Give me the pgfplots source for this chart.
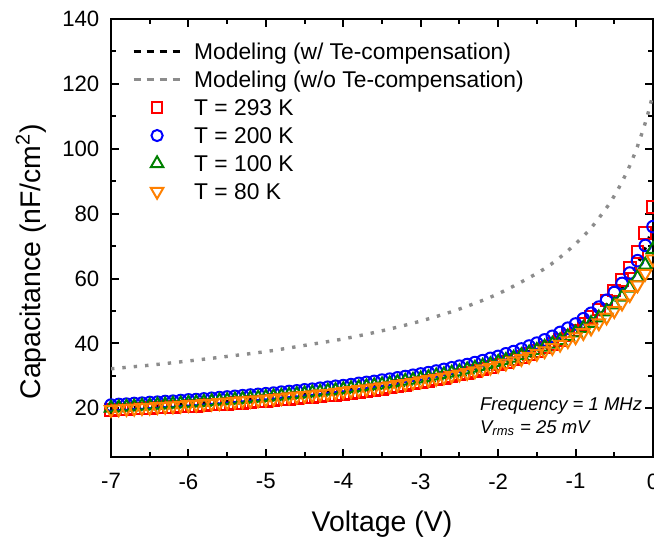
\documentclass[border=0pt]{standalone}
\usepackage{fontspec}
\setmainfont{Liberation Sans}
\usepackage{pgfplots}
\usepackage{pgfplotstable}
\pgfplotsset{compat=1.18}
\definecolor{mygray}{RGB}{140,140,140}
\definecolor{myorange}{RGB}{255,128,0}
\definecolor{mygreen}{RGB}{0,128,0}
\definecolor{myred}{RGB}{255,0,0}
\definecolor{myblue}{RGB}{0,0,255}

\pgfplotstableread{
V red blue green orange
-7.0 19.5 21.0 20.1 19.6
-6.9 19.7 21.2 20.2 19.8
-6.8 19.7 21.3 20.4 19.9
-6.7 19.9 21.5 20.5 20.0
-6.6 20.0 21.6 20.7 20.2
-6.5 20.1 21.8 20.8 20.3
-6.4 20.2 21.9 21.0 20.5
-6.3 20.4 22.1 21.1 20.6
-6.2 20.4 22.2 21.3 20.7
-6.1 20.6 22.4 21.4 20.9
-6.0 20.7 22.6 21.6 21.1
-5.9 20.8 22.7 21.7 21.2
-5.8 21.0 22.9 21.9 21.4
-5.7 21.2 23.1 22.1 21.5
-5.6 21.2 23.3 22.3 21.7
-5.5 21.4 23.5 22.4 21.9
-5.4 21.6 23.7 22.6 22.1
-5.3 21.7 23.9 22.8 22.3
-5.2 21.9 24.1 23.0 22.4
-5.1 22.1 24.3 23.2 22.6
-5.0 22.2 24.5 23.4 22.8
-4.9 22.5 24.7 23.6 23.0
-4.8 22.7 25.0 23.8 23.2
-4.7 22.8 25.2 24.1 23.5
-4.6 23.1 25.4 24.3 23.7
-4.5 23.3 25.7 24.5 23.9
-4.4 23.5 25.9 24.8 24.1
-4.3 23.7 26.2 25.0 24.4
-4.2 24.0 26.5 25.3 24.6
-4.1 24.2 26.8 25.5 24.9
-4.0 24.4 27.0 25.8 25.2
-3.9 24.7 27.3 26.1 25.4
-3.8 25.0 27.7 26.4 25.7
-3.7 25.4 28.0 26.7 26.0
-3.6 25.7 28.3 27.0 26.3
-3.5 26.0 28.7 27.3 26.6
-3.4 26.4 29.0 27.6 26.9
-3.3 26.8 29.4 28.0 27.3
-3.2 27.2 29.8 28.4 27.6
-3.1 27.6 30.2 28.7 28.0
-3.0 28.0 30.6 29.1 28.4
-2.9 28.4 31.0 29.5 28.8
-2.8 28.9 31.5 30.0 29.2
-2.7 29.3 32.0 30.4 29.6
-2.6 29.8 32.5 30.9 30.1
-2.5 30.4 33.0 31.3 30.5
-2.4 30.9 33.5 31.9 31.0
-2.3 31.5 34.1 32.4 31.5
-2.2 32.1 34.7 33.0 32.1
-2.1 32.8 35.4 33.5 32.6
-2.0 33.5 36.0 34.2 33.2
-1.9 34.2 36.8 34.8 33.9
-1.8 35.0 37.5 35.5 34.6
-1.7 35.8 38.3 36.3 35.3
-1.6 36.8 39.2 37.1 36.0
-1.5 37.7 40.1 37.9 36.9
-1.4 38.8 41.1 38.9 37.7
-1.3 39.9 42.2 39.8 38.7
-1.2 41.1 43.4 40.9 39.7
-1.1 42.5 44.7 42.1 40.8
-1.0 44.0 46.0 43.3 42.0
-0.9 46.0 47.6 44.7 43.3
-0.8 48.1 49.3 46.2 44.7
-0.7 50.5 51.2 47.9 46.3
-0.6 53.2 53.3 49.8 48.1
-0.5 56.3 55.7 51.9 50.1
-0.4 59.5 58.5 54.3 52.4
-0.3 63.4 61.7 57.1 55.0
-0.2 68.1 65.5 60.3 58.0
-0.1 74.1 70.2 64.2 61.6
0.0 82.0 76.0 69.0 66.0
}\datatable

\begin{document}
\begin{tikzpicture}
\begin{axis}[
  scale only axis, width=271pt, height=219pt,
  xmin=-7, xmax=0, ymin=5, ymax=140,
  xtick={-7,-6,-5,-4,-3,-2,-1,0}, ytick={20,40,60,80,100,120,140},
  minor x tick num=1, minor y tick num=1,
  tick align=inside,
  major tick length=4pt, minor tick length=2.5pt,
  every tick/.style={black, line width=1pt},
  axis line style={line width=1.2pt},
  /pgf/number format/assume math mode=true,
  tick label style={font=\fontsize{11.1}{13}\selectfont},
  xticklabel style={yshift=-4.8pt},
  yticklabel style={xshift=-2.3pt},
  xlabel={Voltage (V)},
  ylabel={Capacitance (nF/cm\textsuperscript{2})},
  label style={font=\fontsize{14.2}{17}\selectfont},
  xlabel style={at={(axis description cs:0.5,-0.1705)}, anchor=base},
  ylabel style={at={(axis description cs:-0.148,0.446)}, anchor=center},
  legend cell align=left,
  legend style={at={(axis description cs:0.038,0.954)}, anchor=north west, draw=none, fill=none, inner sep=0pt, row sep=2pt, column sep=6pt, font=\fontsize{11.4}{13}\selectfont, nodes={inner sep=0pt, text height=10pt, text depth=2pt}},
]
\addlegendimage{legend image code/.code={\draw[black, line width=1.6pt, dash pattern=on 3.5pt off 3pt] (0pt,0pt) -- (23.5pt,0pt);}}
\addlegendentry{Modeling (w/ Te-compensation)}
\addlegendimage{legend image code/.code={\draw[mygray, line width=1.6pt, dash pattern=on 3.5pt off 3pt] (0pt,0pt) -- (23.5pt,0pt);}}
\addlegendentry{Modeling (w/o Te-compensation)}
\addlegendimage{legend image code/.code={\path[draw=none,fill=none] (0pt,0pt) -- (23.5pt,0pt); \draw[myred, line width=1pt] (9.05pt,-2.7pt) rectangle (14.45pt,2.7pt);}}
\addlegendentry{T = 293 K}
\addlegendimage{legend image code/.code={\path[draw=none,fill=none] (0pt,0pt) -- (23.5pt,0pt); \draw[myblue, line width=1pt] (11.75pt,0pt) circle (2.8pt);}}
\addlegendentry{T = 200 K}
\addlegendimage{legend image code/.code={\path[draw=none,fill=none] (0pt,0pt) -- (23.5pt,0pt); \draw[mygreen, line width=1pt, line join=miter] (11.75pt,3.6pt) -- (14.87pt,-1.8pt) -- (8.63pt,-1.8pt) -- cycle;}}
\addlegendentry{T = 100 K}
\addlegendimage{legend image code/.code={\path[draw=none,fill=none] (0pt,0pt) -- (23.5pt,0pt); \draw[myorange, line width=1pt, line join=miter] (11.75pt,-3.6pt) -- (14.87pt,1.8pt) -- (8.63pt,1.8pt) -- cycle;}}
\addlegendentry{T = 80 K}

\addplot[forget plot, only marks, mark=square, mark size=2.9pt, draw=myred, mark options={line width=1pt}] table[x=V,y=red]{\datatable};
\addplot[forget plot, only marks, mark=o, mark size=2.9pt, draw=myblue, mark options={line width=1pt}] table[x=V,y=blue]{\datatable};
\addplot[forget plot, only marks, mark=triangle, mark size=3.6pt, draw=mygreen, mark options={line width=1pt}] table[x=V,y=green]{\datatable};
\addplot[forget plot, only marks, mark=triangle, mark size=3.6pt, draw=myorange, mark options={rotate=180, line width=1pt}] table[x=V,y=orange]{\datatable};

\addplot[forget plot, black, line width=1.7pt, dash pattern=on 1.7pt off 4pt, smooth] coordinates {
(-7,19.8) (-6.5,20.5) (-6,21.3) (-5.5,22.1) (-5,23.1) (-4.5,24.2) (-4,25.6) (-3.5,27.1) (-3,29.0) (-2.5,31.3) (-2,34.3) (-1.5,38.3) (-1.25,40.9) (-1,44.2) (-0.8,47.4) (-0.6,51.5) (-0.5,54.0) (-0.4,56.9) (-0.3,60.3) (-0.2,64.4) (-0.1,69.5) (-0.05,72.5) (0,76.0)};
\addplot[forget plot, mygray, line width=1.7pt, dash pattern=on 1.7pt off 4pt, smooth] coordinates {
(-7,32.2) (-6.5,33.3) (-6,34.6) (-5.5,36.0) (-5,37.5) (-4.5,39.4) (-4,41.4) (-3.5,43.9) (-3,46.9) (-2.5,50.6) (-2,55.3) (-1.5,61.6) (-1.25,65.6) (-1,70.7) (-0.8,75.6) (-0.6,81.8) (-0.5,85.5) (-0.4,89.8) (-0.3,94.8) (-0.2,100.8) (-0.1,108.0) (-0.05,112.2) (0,117.0)};

\node[anchor=west, align=left, font=\fontsize{9.25}{11.5}\selectfont\itshape] at (axis description cs:0.668,0.0925) {Frequency = 1 MHz\\V\textsubscript{rms} = 25 mV};
\end{axis}
\pgfresetboundingbox
\useasboundingbox ([xshift=-55.5pt,yshift=-41pt]current axis.south west) rectangle ([xshift=0.5pt,yshift=9.5pt]current axis.north east);
\end{tikzpicture}
\end{document}
